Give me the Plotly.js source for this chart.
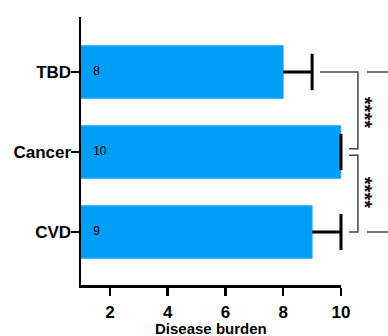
<!DOCTYPE html>
<html>
<head>
<meta charset="utf-8">
<script src="https://cdn.plot.ly/plotly-3.0.1.min.js"></script>
<style>html,body{margin:0;padding:0;background:#fff;}#chart{width:388px;height:336px;}</style>
</head>
<body>
<div id="chart"></div>
<script>
// Data (top to bottom as shown)
const categories = ['TBD', 'Cancer', 'CVD'];
const values = [8, 10, 9];
const errors = [1, 0, 1];
const barLabels = ['8', '10', '9'];
const xTicks = [2, 4, 6, 8, 10];
const axisTitle = 'Disease burden';
const sigText = '****';

const FONT = 'Liberation Sans, Arial, sans-serif';
const labelX = 1.42;

const bars = {
  type: 'bar', orientation: 'h',
  y: categories, x: values,
  width: 0.66,
  marker: {color: '#009ef6', line: {color: '#3db4f7', width: 1}},
  hoverinfo: 'skip'
};

const errTrace = {
  type: 'scatter', mode: 'markers',
  y: categories,
  x: values.map((v, i) => v + errors[i]),
  marker: {symbol: 'line-ns-open', size: 26, color: '#000', line: {color: '#000', width: 3}},
  error_x: {type: 'data', symmetric: false, array: errors.map(() => 0), arrayminus: errors,
            width: 0, thickness: 3, color: '#000'},
  cliponaxis: false,
  hoverinfo: 'skip'
};

const textTrace = {
  type: 'scatter', mode: 'text',
  y: categories, x: categories.map(() => labelX),
  text: barLabels, textposition: 'middle right',
  textfont: {family: FONT, size: 12, color: '#000'},
  hoverinfo: 'skip'
};

// bracket geometry (paper x, data y)
const bx0 = 0.919, bxIn = 1.031, bxV = 1.065, bxR0 = 1.10, bxR1 = 1.25;
const lineStyle = {color: '#444', width: 1.5};
const shapes = [
  // TBD vs Cancer
  {type: 'path', xref: 'paper', yref: 'y',
   path: `M${bx0},2 L${bxV},2 L${bxV},1.04 L${bxIn},1.04`, line: lineStyle},
  // Cancer vs CVD
  {type: 'path', xref: 'paper', yref: 'y',
   path: `M${bxIn},0.96 L${bxV},0.96 L${bxV},0 L${bxIn},0`, line: lineStyle},
  // TBD vs CVD (outer, clipped)
  {type: 'line', xref: 'paper', yref: 'y', x0: bxR0, x1: bxR1, y0: 2, y1: 2, line: lineStyle},
  {type: 'line', xref: 'paper', yref: 'y', x0: bxR0, x1: bxR1, y0: 0, y1: 0, line: lineStyle}
];

const annotations = [1.5, 0.5].map(yv => ({
  xref: 'paper', yref: 'y', x: 1.143, y: yv,
  text: sigText, showarrow: false, textangle: 90,
  font: {family: FONT, size: 20, weight: 'bold', color: '#111'}
}));
// x-axis title as an annotation placed close to the bottom edge, as in the reference
annotations.push({
  xref: 'paper', yref: 'paper', x: 0.5, y: -0.124, xanchor: 'center', yanchor: 'top',
  text: axisTitle, showarrow: false,
  font: {family: FONT, size: 15, weight: 'bold', color: '#000'}
});

const layout = {
  width: 388, height: 336,
  margin: {l: 81, r: 47, t: 17, b: 51},
  paper_bgcolor: '#fff', plot_bgcolor: '#fff',
  showlegend: false,
  font: {family: FONT, color: '#000'},
  xaxis: {
    range: [1, 10], tickvals: xTicks, ticks: 'outside', ticklen: 8, tickwidth: 2.5,
    tickcolor: '#000', showline: true, linewidth: 2.5, linecolor: '#000',
    showgrid: false, zeroline: false, ticklabelstandoff: 2,
    tickfont: {family: FONT, size: 17, weight: 'bold', color: '#000'}
  },
  yaxis: {
    type: 'category', categoryorder: 'array', categoryarray: categories.slice().reverse(),
    range: [-0.6625, 2.6875], ticks: 'outside', ticklen: 8, tickwidth: 2.5,
    tickcolor: '#000', showline: true, linewidth: 2.5, linecolor: '#000',
    showgrid: false, zeroline: false, ticklabelstandoff: -4,
    tickfont: {family: FONT, size: 17, weight: 'bold', color: '#000'}
  },
  shapes: shapes,
  annotations: annotations
};

Plotly.newPlot('chart', [bars, errTrace, textTrace], layout, {displayModeBar: false, staticPlot: true});
</script>
</body>
</html>
